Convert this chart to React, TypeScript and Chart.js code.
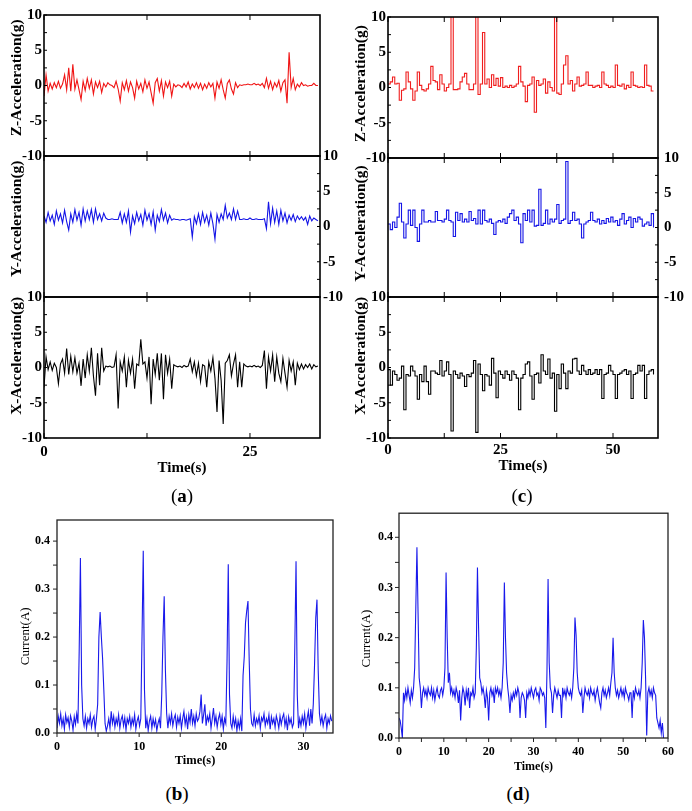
import React, { useEffect, useRef } from 'react';
import { Chart, registerables } from 'chart.js';

Chart.register(...registerables);

const SERIF = '"Liberation Serif", "Times New Roman", Times, serif';

// ---------------- data ----------------
// (a) acceleration, sampled every 0.25 s
const aDt = 0.25;
const aZ = [
  -1.5, 1.5, -0.8, 0.3, -0.5, 0.4, -0.3, 0.6, -0.4, 0.2,
  1.5, -0.6, 2.5, -0.8, 3.0, -0.5, 0.8, -0.6, -2.0, 0.6,
  -0.7, 1.0, -0.4, 0.8, -1.2, 0.5, -0.3, 0.6, -1.0, 0.3,
  -0.2, 0.4, 0.1, 0.0, -0.3, 0.6, -0.5, -2.2, 0.4, -0.6,
  0.7, -0.8, 0.5, -0.3, -1.8, 0.6, -0.5, 0.3, -0.9, 0.8,
  -0.4, 0.5, -1.0, -2.5, 0.4, 1.0, -0.8, 0.7, -1.5, 0.5,
  -0.3, 0.6, -1.5, 0.2, -0.2, 0.1, 0.0, -0.3, 0.3, -0.2,
  0.5, -0.5, 0.2, -0.3, 0.4, -0.4, 0.3, -0.6, 0.2, -0.4,
  0.4, -0.2, 0.3, -1.8, 0.5, -0.4, 0.8, -0.6, -1.8, 0.3,
  0.8, -0.5, -1.2, 0.4, -0.3, 0.1, 0.0, 0.1, 0.1, 0.2,
  0.1, 0.1, 0.3, 0.1, 0.2, 0.0, 0.3, -0.3, 1.0, -0.4,
  0.6, -0.6, 0.4, -0.2, 0.7, -0.8, 0.4, 0.8, -2.5, 4.7,
  -0.3, 1.0, -0.6, 0.2, -0.2, 0.4, 0.0, 0.1, -0.1, 0.0,
  0.0, 0.3, 0.0, 0.0,
];
const aY = [
  1.5, 0.6, 2.0, 0.8, 1.6, 0.3, 2.2, 0.9, 1.8, 0.5,
  2.3, 0.7, -0.5, 1.8, 0.6, 2.4, 0.9, 2.0, 0.2, 2.5,
  0.8, 2.2, 1.0, 2.4, 0.6, 2.5, 1.0, 1.8, 0.8, 1.9,
  1.2, 1.0, 1.0, 1.1, 1.0, 1.0, 1.0, 2.0, 0.5, 1.8,
  0.6, 2.2, -0.8, 1.5, 0.4, 2.0, 0.8, 1.7, 0.2, 2.3,
  0.9, 1.8, 0.3, 2.1, -0.5, 1.6, 0.7, 2.4, 0.9, 1.9,
  0.5, 1.6, 0.9, 1.1, 1.0, 1.0, 0.9, 1.0, 1.0, 0.9,
  1.0, 1.1, -1.5, 1.4, 0.4, 1.8, 0.3, 2.0, 0.6, 1.6,
  0.2, 1.9, 0.4, -1.8, 1.7, 0.6, 1.8, 1.0, 3.0, 1.2,
  1.9, 1.0, 2.5, 1.0, 2.2, 1.0, 1.0, 1.1, 1.0, 1.0,
  1.2, 1.0, 1.0, 1.1, 1.0, 1.0, 1.0, 1.1, -0.3, 3.5,
  0.4, 2.6, 0.6, 2.2, 0.3, 2.3, 0.8, 1.9, 0.5, 1.6,
  0.9, 1.7, 0.7, 1.5, 1.0, 1.4, 0.9, 1.3, 0.3, 1.5,
  0.8, 1.2, 1.0, 0.8,
];
const aX = [
  -2.8, 1.5, -0.3, 0.8, -0.4, 0.6, 0.0, -2.3, 0.5, 1.2,
  -0.8, 2.7, -1.0, 1.6, -0.6, 1.4, -0.8, 0.6, -2.6, 1.2,
  -1.5, 1.8, -0.5, 2.8, -1.2, -4.0, 2.0, -2.5, 2.8, -0.5,
  0.2, 0.1, 0.2, 0.0, 0.1, 1.8, -5.8, 0.8, -0.5, 1.5,
  -2.8, 1.0, -0.8, 1.2, -3.0, 0.5, 0.3, 4.0, 0.5, 0.8,
  -1.5, 1.5, -5.2, 1.2, -1.0, 2.0, -1.8, 2.0, -4.5, 1.8,
  -0.8, 1.2, -3.0, 0.4, 0.2, 0.1, 0.2, 0.0, 0.3, 0.1,
  0.2, 1.2, -0.6, 0.8, -1.2, 0.6, -2.0, 0.4, 0.2, -2.8,
  0.8, -0.5, 1.4, -1.5, -6.3, 1.0, -1.8, -8.0, 0.6, 1.0,
  1.8, -1.2, 0.5, 1.8, -2.8, 0.8, -2.8, 0.5, 0.2, 0.1,
  0.2, 0.1, 0.3, 0.1, 0.2, 0.0, 0.3, 2.4, -3.0, 1.5,
  -0.5, 1.8, -2.0, 1.5, -0.8, -2.0, 1.3, -0.8, -2.8, 1.0,
  -0.5, 0.8, -2.5, 0.6, -0.3, 0.5, -0.2, 0.4, 0.0, 0.5,
  -0.2, 0.4, 0.1, 0.2,
];

// (c) acceleration, sampled every 0.5 s (drawn as steps)
const cDt = 0.5;
const cZ = [
  0.5, 0.8, 1.5, 0.5, 0.6, -1.8, -0.4, -0.2, 2.2, 0.8,
  -0.2, -1.8, -0.5, 2.2, 0.3, -0.3, -0.5, -0.2, 0.5, 3.0,
  1.0, 0.8, -0.3, 1.8, 0.5, -0.5, 0.0, 0.5, 12, -0.3,
  -0.3, -0.2, 0.8, 1.5, 2.0, 0.5, -0.3, -0.3, 0.5, 12,
  -1.0, 0.5, 7.8, 0.5, 1.2, 0.0, 1.8, 0.3, 1.3, 0.2,
  1.4, 0.0, 0.2, 0.0, 0.3, 0.0, 0.2, 0.5, 3.0, 0.8,
  0.2, -2.0, 0.3, 0.5, 1.5, -3.5, 1.0, 0.3, 0.5, 1.2,
  -0.8, 0.8, 0.0, -0.5, 12, -0.8, -1.0, 0.5, 3.2, 4.5,
  0.5, 1.0, -0.5, 0.5, 1.5, 0.2, 0.3, 0.5, 2.2, 0.3,
  0.3, 0.0, 0.2, 0.3, 0.0, 2.2, 0.5, 0.3, 0.0, 0.2,
  0.0, 3.2, 0.3, 0.2, 0.5, -0.2, 0.3, 0.0, 2.2, 0.3,
  0.2, 0.0, 0.1, 0.0, 3.2, 0.3, 0.2, -0.5, -0.5,
];
const cY = [
  0.5, -0.3, 0.8, 0.0, 1.5, 3.5, 0.8, -1.5, 0.5, 2.5,
  0.3, 2.5, 0.0, -2.0, 0.5, 2.5, 0.8, 0.8, 1.0, 0.8,
  0.8, 2.3, 1.0, 1.0, 0.8, 1.2, 2.5, 1.0, 0.8, -1.3,
  2.2, 1.0, 2.0, 0.8, 1.2, 0.8, 2.3, 1.0, 1.3, 0.5,
  2.5, 0.5, 2.5, 1.0, 0.8, 1.2, 0.6, -1.0, 0.8, 1.0,
  0.8, 1.2, 0.6, 1.5, 2.0, 2.5, 1.0, 1.5, 0.5, -2.2,
  2.0, 1.0, 2.5, 0.8, 2.5, 0.2, 0.3, 5.5, 0.3, 0.6,
  2.5, 0.5, 1.2, 0.8, 1.2, 3.3, 0.6, 1.0, 1.2, 9.5,
  0.6, 1.0, 2.2, 1.0, 1.2, 0.5, -1.5, 0.5, 0.8, 1.0,
  2.2, 1.0, 0.8, 1.2, 0.5, 1.0, 0.6, 1.3, 0.8, 1.5,
  0.8, 1.0, 0.3, 1.2, 2.0, 0.5, 1.0, 1.5, 0.0, 1.3,
  0.8, 1.5, 1.2, 0.2, 0.5, 0.8, 0.3, 2.0, 0.0,
];
const cX = [
  -0.3, -2.5, -0.5, -1.0, -1.8, -1.5, 0.2, -6.0, -1.0, -1.2,
  0.2, -0.5, -1.2, -4.5, -1.0, -2.0, 0.2, -2.0, -3.8, -0.5,
  -0.5, -0.8, -1.0, 1.0, -1.2, -0.5, 0.8, -1.0, -9.0, -0.5,
  -1.0, -1.5, -0.8, -1.2, -2.7, -1.0, -1.3, -0.8, 1.0, -9.2,
  0.5, -1.0, -3.3, -1.0, -1.2, -2.5, 1.3, -0.8, -4.3, -0.5,
  -1.0, -1.5, -0.5, -1.0, -1.8, -0.5, -1.0, -1.5, -6.0, -1.5,
  -1.0, 0.5, 0.8, -1.2, -4.5, -1.0, -0.8, -2.2, 1.8, -0.5,
  -1.0, 1.2, -1.5, -0.8, -6.2, -1.0, -3.0, 0.5, -0.8, -3.0,
  -0.5, -0.8, 1.2, 1.3, -0.5, -1.0, 0.3, -0.5, -1.0, -0.3,
  -1.0, -0.8, -0.3, -1.0, -0.3, -4.4, -1.0, -0.8, 0.3, -0.5,
  -1.0, -4.4, -1.0, -0.8, -0.5, -0.3, -1.0, -0.5, -4.4, -1.0,
  -0.8, 0.3, -0.5, 0.3, -4.4, -1.0, -0.5, -0.3, -1.0,
];

// (b) current, sampled every 0.15 s
const bDt = 0.15;
const bCurrent = [
  0.01, 0.035, 0.02, 0.04, 0.015, 0.03, 0.008, 0.038, 0.022, 0.032,
  0.012, 0.036, 0.025, 0.006, 0.034, 0.018, 0.04, 0.02, 0.17, 0.365,
  0.10, 0.03, 0.015, 0.035, 0.01, 0.03, 0.02, 0.038, 0.012, 0.028,
  0.035, 0.008, 0.03, 0.06, 0.2, 0.252, 0.2, 0.155, 0.09, 0.02,
  0.004, 0.015, 0.03, 0.01, 0.045, 0.02, 0.035, 0.012, 0.03, 0.018,
  0.038, 0.01, 0.028, 0.036, 0.015, 0.032, 0.006, 0.03, 0.02, 0.035,
  0.012, 0.03, 0.018, 0.038, 0.008, 0.025, 0.034, 0.015, 0.03, 0.2,
  0.38, 0.09, 0.01, 0.03, 0.005, 0.025, 0.035, 0.01, 0.03, 0.015,
  0.028, 0.005, 0.02, 0.03, 0.01, 0.08, 0.2, 0.285, 0.13, 0.04,
  0.01, 0.035, 0.02, 0.04, 0.015, 0.03, 0.038, 0.012, 0.033, 0.02,
  0.036, 0.01, 0.03, 0.045, 0.018, 0.034, 0.008, 0.038, 0.022, 0.05,
  0.02, 0.035, 0.015, 0.04, 0.025, 0.03, 0.045, 0.08, 0.02, 0.038,
  0.06, 0.015, 0.035, 0.025, 0.04, 0.01, 0.03, 0.052, 0.02, 0.035,
  0.012, 0.03, 0.04, 0.018, 0.035, 0.008, 0.03, 0.02, 0.15, 0.352,
  0.08, 0.02, 0.01, 0.035, 0.015, 0.03, 0.005, 0.025, 0.01, 0.03,
  0.004, 0.12, 0.16, 0.23, 0.255, 0.275, 0.15, 0.05, 0.02, 0.015,
  0.038, 0.015, 0.03, 0.02, 0.036, 0.01, 0.032, 0.025, 0.04, 0.015,
  0.03, 0.02, 0.038, 0.008, 0.034, 0.02, 0.03, 0.012, 0.036, 0.025,
  0.01, 0.035, 0.018, 0.032, 0.04, 0.015, 0.03, 0.006, 0.034, 0.02,
  0.03, 0.012, 0.02, 0.18, 0.358, 0.08, 0.01, 0.03, 0.015, 0.035,
  0.02, 0.04, 0.01, 0.03, 0.045, 0.015, 0.05, 0.02, 0.06, 0.14,
  0.24, 0.278, 0.13, 0.04, 0.02, 0.035, 0.015, 0.03, 0.038, 0.01,
  0.03, 0.02, 0.036, 0.025,
];

// (d) current, sampled every 0.25 s
const dDt = 0.25;
const dCurrent = [
  0.04, 0.035, 0.02, 0.0, 0.09, 0.075, 0.095, 0.08, 0.1, 0.085,
  0.07, 0.095, 0.08, 0.1, 0.14, 0.26, 0.38, 0.25, 0.12, 0.1,
  0.06, 0.09, 0.1, 0.085, 0.095, 0.08, 0.1, 0.09, 0.085, 0.1,
  0.08, 0.095, 0.075, 0.09, 0.1, 0.085, 0.08, 0.095, 0.1, 0.085,
  0.1, 0.14, 0.33, 0.2, 0.11, 0.13, 0.09, 0.1, 0.085, 0.095,
  0.08, 0.1, 0.09, 0.07, 0.095, 0.035, 0.08, 0.1, 0.09, 0.065,
  0.095, 0.08, 0.1, 0.06, 0.09, 0.085, 0.1, 0.08, 0.09, 0.18,
  0.34, 0.22, 0.12, 0.11, 0.09, 0.1, 0.085, 0.06, 0.095, 0.08,
  0.035, 0.09, 0.1, 0.085, 0.095, 0.07, 0.1, 0.09, 0.1, 0.085,
  0.095, 0.08, 0.1, 0.15, 0.31, 0.2, 0.13, 0.1, 0.08, 0.05,
  0.085, 0.075, 0.09, 0.08, 0.095, 0.085, 0.1, 0.09, 0.04, 0.08,
  0.09, 0.085, 0.075, 0.04, 0.09, 0.08, 0.095, 0.085, 0.1, 0.09,
  0.08, 0.095, 0.1, 0.085, 0.09, 0.075, 0.1, 0.095, 0.085, 0.09,
  0.08, 0.02, 0.13, 0.317, 0.15, 0.1, 0.09, 0.05, 0.085, 0.1,
  0.09, 0.08, 0.095, 0.085, 0.085, 0.04, 0.1, 0.085, 0.095, 0.08,
  0.1, 0.09, 0.085, 0.095, 0.08, 0.1, 0.14, 0.24, 0.205, 0.13,
  0.1, 0.09, 0.085, 0.095, 0.05, 0.08, 0.1, 0.09, 0.085, 0.095,
  0.08, 0.1, 0.09, 0.085, 0.095, 0.075, 0.09, 0.1, 0.085, 0.07,
  0.06, 0.09, 0.1, 0.085, 0.095, 0.08, 0.09, 0.1, 0.085, 0.11,
  0.13, 0.2, 0.13, 0.1, 0.085, 0.095, 0.08, 0.09, 0.1, 0.085,
  0.095, 0.08, 0.1, 0.09, 0.085, 0.075, 0.09, 0.09, 0.04, 0.095,
  0.08, 0.1, 0.09, 0.085, 0.095, 0.08, 0.1, 0.15, 0.235, 0.2,
  0.12, 0.005, 0.09, 0.1, 0.085, 0.095, 0.08, 0.1, 0.09, 0.085,
  0.04, 0.03, 0.02, 0.035, 0.01, 0.03, 0.0,
];

// tick labels
const accTicks = [-10, -5, 0, 5, 10];
const aTimeTicks = [0, 25];
const cTimeTicks = [0, 25, 50];
const currentTicks = [0, 0.1, 0.2, 0.3, 0.4];
const bTimeTicks = [0, 10, 20, 30];
const dTimeTicks = [0, 10, 20, 30, 40, 50, 60];

// ---------------- helpers ----------------
const pts = (values: number[], dt: number) => values.map((v, i) => ({ x: i * dt, y: v }));
const fixWidth = (w: number) => (s: any) => { s.width = w; };
const fixHeight = (h: number) => (s: any) => { s.height = h; };
const useTicks = (vals: number[]) => (s: any) => { s.ticks = vals.map((v) => ({ value: v })); };
const noGrid = { display: false, drawTicks: false, tickLength: 0 };
const noBorder = { display: false };

type Mark = { scale: string; sides: string[]; step: number; len: number; inward: boolean };

function framePlugin(color: string, lineWidth: number, marks: Mark[]) {
  return {
    id: 'frame',
    afterDraw(chart: any) {
      const { ctx, chartArea: a } = chart;
      ctx.save();
      ctx.strokeStyle = color;
      ctx.lineWidth = lineWidth;
      ctx.strokeRect(a.left, a.top, a.right - a.left, a.bottom - a.top);
      ctx.lineWidth = 1;
      marks.forEach((m) => {
        const s = chart.scales[m.scale];
        const n0 = Math.ceil(s.min / m.step - 1e-6);
        const n1 = Math.floor(s.max / m.step + 1e-6);
        const dir = m.inward ? 1 : -1;
        ctx.beginPath();
        for (let n = n0; n <= n1; n++) {
          const p = s.getPixelForValue(n * m.step);
          m.sides.forEach((side) => {
            if (side === 'left') { ctx.moveTo(a.left, p); ctx.lineTo(a.left + dir * m.len, p); }
            else if (side === 'right') { ctx.moveTo(a.right, p); ctx.lineTo(a.right - dir * m.len, p); }
            else if (side === 'top') { ctx.moveTo(p, a.top); ctx.lineTo(p, a.top + dir * m.len); }
            else { ctx.moveTo(p, a.bottom); ctx.lineTo(p, a.bottom - dir * m.len); }
          });
        }
        ctx.stroke();
      });
      ctx.restore();
    },
  };
}

type AccOpts = {
  values: number[]; dt: number; color: string; stepped: boolean;
  title: string; titlePad: number; xMax: number; xTicks: number[];
  leftW: number; rightW: number; padTop: number; padRight: number; padBottom: number;
  rightLabels: boolean; rightLabelPad: number;
  xAxis: null | { h: number; labelPad: number; titlePadB: number };
};

function accConfig(o: AccOpts) {
  const tickFont = { family: SERIF, size: 15, weight: 'bold' as const };
  const titleFont = { family: SERIF, size: 15.5, weight: 'bold' as const };
  const scales: any = {
    x: {
      type: 'linear', min: 0, max: o.xMax, display: !!o.xAxis,
      afterBuildTicks: useTicks(o.xTicks),
      afterFit: fixHeight(o.xAxis ? o.xAxis.h : 0),
      grid: noGrid, border: noBorder,
      ticks: { font: tickFont, color: '#000', padding: o.xAxis ? o.xAxis.labelPad : 0, maxRotation: 0, autoSkip: false, callback: (v: any) => String(v) },
      title: { display: !!o.xAxis, text: 'Time(s)', color: '#000', font: { family: SERIF, size: 15, weight: 'bold' }, padding: { top: 0, bottom: o.xAxis ? o.xAxis.titlePadB : 0 } },
    },
    yl: {
      type: 'linear', position: 'left', min: -10, max: 10,
      afterBuildTicks: useTicks(accTicks), afterFit: fixWidth(o.leftW),
      grid: noGrid, border: noBorder,
      ticks: { display: !o.rightLabels, font: tickFont, color: '#000', padding: 2, callback: (v: any) => String(v) },
      title: { display: true, text: o.title, color: '#000', font: titleFont, padding: { top: o.titlePad, bottom: 0 } },
    },
  };
  if (o.rightLabels) {
    scales.yr = {
      type: 'linear', position: 'right', min: -10, max: 10,
      afterBuildTicks: useTicks(accTicks), afterFit: fixWidth(o.rightW),
      grid: noGrid, border: noBorder,
      ticks: { font: tickFont, color: '#000', padding: o.rightLabelPad, callback: (v: any) => String(v) },
    };
  }
  const marks: Mark[] = [
    { scale: 'x', sides: ['top', 'bottom'], step: 12.5, len: 5, inward: true },
    { scale: o.rightLabels ? 'yr' : 'yl', sides: [o.rightLabels ? 'right' : 'left'], step: 2.5, len: 3, inward: true },
  ];
  return {
    type: 'line',
    data: {
      datasets: [{
        data: pts(o.values, o.dt), borderColor: o.color, borderWidth: 1.1, pointRadius: 0,
        tension: 0, stepped: o.stepped, fill: false, yAxisID: o.rightLabels ? 'yr' : 'yl',
      }],
    },
    options: {
      animation: false, responsive: false, events: [],
      layout: { padding: { top: o.padTop, right: o.padRight, bottom: o.padBottom, left: 0 } },
      plugins: { legend: { display: false }, tooltip: { enabled: false } },
      scales,
    },
    plugins: [framePlugin('#000', 1.6, marks)],
  };
}

type CurOpts = {
  values: number[]; dt: number; xMax: number; yMax: number; xTicks: number[];
  leftW: number; padTop: number; padRight: number; xH: number; yTitle: string;
  titlePad: number; yLabelPad: number; xLabelPad: number; timeSize: number;
};

function currentConfig(o: CurOpts) {
  const tickFont = { family: SERIF, size: 12, weight: 'bold' as const };
  return {
    type: 'line',
    data: {
      datasets: [{
        data: pts(o.values, o.dt), borderColor: 'rgb(25,25,235)', borderWidth: 1.1, pointRadius: 0,
        tension: 0, fill: false,
      }],
    },
    options: {
      animation: false, responsive: false, events: [],
      layout: { padding: { top: o.padTop, right: o.padRight, bottom: 0, left: 0 } },
      plugins: { legend: { display: false }, tooltip: { enabled: false } },
      scales: {
        x: {
          type: 'linear', min: 0, max: o.xMax,
          afterBuildTicks: useTicks(o.xTicks), afterFit: fixHeight(o.xH),
          grid: noGrid, border: noBorder,
          ticks: { font: tickFont, color: '#000', padding: o.xLabelPad, maxRotation: 0, autoSkip: false, callback: (v: any) => String(v) },
          title: { display: true, text: 'Time(s)', color: '#000', font: { family: SERIF, size: o.timeSize, weight: 'bold' }, padding: { top: 0, bottom: 0 } },
        },
        y: {
          type: 'linear', min: 0, max: o.yMax,
          afterBuildTicks: useTicks(currentTicks), afterFit: fixWidth(o.leftW),
          grid: noGrid, border: noBorder,
          ticks: { font: tickFont, color: '#000', padding: o.yLabelPad, callback: (v: any) => Number(v).toFixed(1) },
          title: { display: true, text: o.yTitle, color: '#000', font: { family: SERIF, size: 13 }, padding: { top: o.titlePad, bottom: 0 } },
        },
      },
    },
    plugins: [framePlugin('#222', 1.3, [
      { scale: 'y', sides: ['left'], step: 0.05, len: 4, inward: false },
      { scale: 'x', sides: ['bottom'], step: 5, len: 4, inward: false },
    ])],
  };
}

// ---------------- panels ----------------
type Panel = { key: string; left: number; top: number; width: number; height: number; make: () => any };

const PANELS: Panel[] = [
  { key: 'aZ', left: 0, top: 0, width: 346, height: 176, make: () => accConfig({
    values: aZ, dt: aDt, color: 'rgb(240,20,20)', stepped: false, title: '    Z-Acceleration(g)', titlePad: 8,
    xMax: 33.5, xTicks: aTimeTicks, leftW: 44, rightW: 0, padTop: 15, padRight: 26, padBottom: 20,
    rightLabels: false, rightLabelPad: 0, xAxis: null }) },
  { key: 'aY', left: 0, top: 140, width: 360, height: 177, make: () => accConfig({
    values: aY, dt: aDt, color: 'rgb(20,20,230)', stepped: false, title: '    Y-Acceleration(g)', titlePad: 8,
    xMax: 33.5, xTicks: aTimeTicks, leftW: 44, rightW: 40, padTop: 16, padRight: 0, padBottom: 20,
    rightLabels: true, rightLabelPad: 3, xAxis: null }) },
  { key: 'aX', left: 0, top: 280, width: 346, height: 198, make: () => accConfig({
    values: aX, dt: aDt, color: '#000', stepped: false, title: '      X-Acceleration(g)', titlePad: 8,
    xMax: 33.5, xTicks: aTimeTicks, leftW: 44, rightW: 0, padTop: 17, padRight: 26, padBottom: 0,
    rightLabels: false, rightLabelPad: 0, xAxis: { h: 40, labelPad: 5, titlePadB: 1 } }) },
  { key: 'cZ', left: 346, top: 0, width: 346, height: 178, make: () => accConfig({
    values: cZ, dt: cDt, color: 'rgb(240,30,30)', stepped: true, title: '  Z-Acceleration(g)', titlePad: 6,
    xMax: 60, xTicks: cTimeTicks, leftW: 42, rightW: 0, padTop: 17, padRight: 34, padBottom: 20,
    rightLabels: false, rightLabelPad: 0, xAxis: null }) },
  { key: 'cY', left: 346, top: 140, width: 346, height: 177, make: () => accConfig({
    values: cY, dt: cDt, color: 'rgb(20,20,230)', stepped: true, title: '  Y-Acceleration(g)', titlePad: 6,
    xMax: 60, xTicks: cTimeTicks, leftW: 42, rightW: 34, padTop: 18, padRight: 0, padBottom: 20,
    rightLabels: true, rightLabelPad: 6, xAxis: null }) },
  { key: 'cX', left: 346, top: 280, width: 346, height: 195, make: () => accConfig({
    values: cX, dt: cDt, color: '#000', stepped: true, title: '      X-Acceleration(g)', titlePad: 6,
    xMax: 60, xTicks: cTimeTicks, leftW: 42, rightW: 0, padTop: 17, padRight: 34, padBottom: 0,
    rightLabels: false, rightLabelPad: 0, xAxis: { h: 37, labelPad: 3, titlePadB: 0 } }) },
  { key: 'b', left: 0, top: 505, width: 346, height: 263, make: () => currentConfig({
    values: bCurrent, dt: bDt, xMax: 33.6, yMax: 0.444, xTicks: bTimeTicks, yTitle: 'Current(A)      ',
    leftW: 57, padTop: 15, padRight: 13, xH: 35, titlePad: 18, yLabelPad: 7, xLabelPad: 7, timeSize: 12.5 }) },
  { key: 'd', left: 346, top: 500, width: 346, height: 274, make: () => currentConfig({
    values: dCurrent, dt: dDt, xMax: 60, yMax: 0.448, xTicks: dTimeTicks, yTitle: 'Current(A)        ',
    leftW: 53, padTop: 12, padRight: 24, xH: 36, titlePad: 13, yLabelPad: 6, xLabelPad: 7, timeSize: 12 }) },
];

function ChartCanvas({ left, top, width, height, make }: Panel) {
  const ref = useRef<HTMLCanvasElement>(null);
  useEffect(() => {
    const chart = new Chart(ref.current as HTMLCanvasElement, make());
    return () => chart.destroy();
  }, []);
  return (
    <canvas ref={ref} width={width} height={height}
      style={{ position: 'absolute', left, top, width, height }} />
  );
}

function Caption({ x, y, letter }: { x: number; y: number; letter: string }) {
  return (
    <div style={{
      position: 'absolute', left: x, top: y, transform: 'translate(-50%, -50%)',
      fontFamily: SERIF, fontSize: 19, color: '#000', whiteSpace: 'nowrap', lineHeight: 1,
    }}>
      (<b>{letter}</b>)
    </div>
  );
}

export default function App() {
  return (
    <div style={{ position: 'absolute', left: 0, top: 0, width: 692, height: 811, background: '#fff', overflow: 'hidden' }}>
      {PANELS.map((p) => <ChartCanvas {...p} key={p.key} />)}
      <Caption x={182} y={495} letter="a" />
      <Caption x={522} y={495} letter="c" />
      <Caption x={177} y={793} letter="b" />
      <Caption x={518} y={793} letter="d" />
    </div>
  );
}
